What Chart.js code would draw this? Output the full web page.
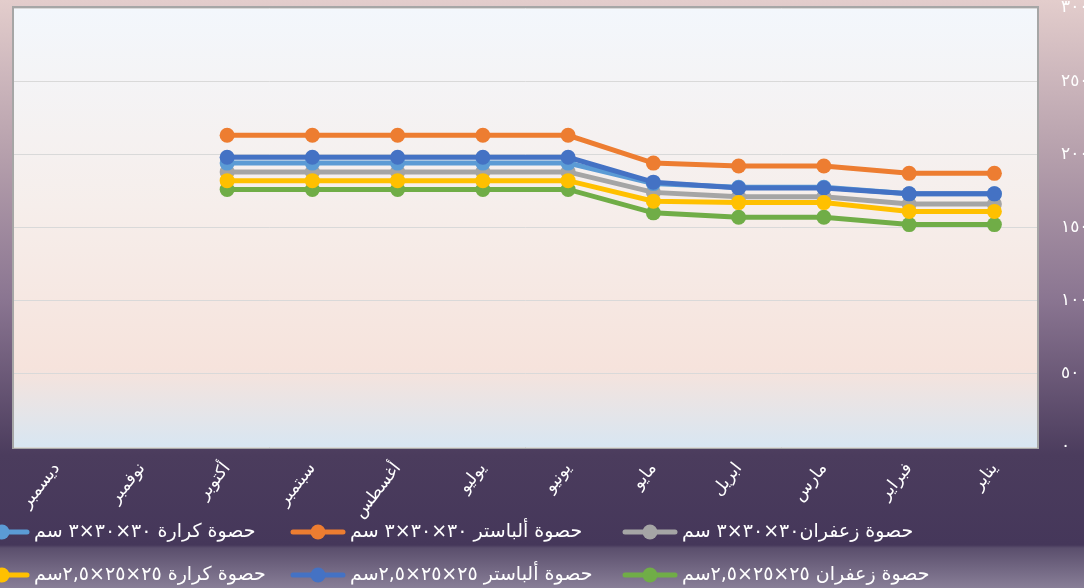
<!DOCTYPE html>
<html lang="ar">
<head>
<meta charset="utf-8">
<script src="https://cdn.jsdelivr.net/npm/chart.js@4.4.1/dist/chart.umd.min.js"></script>
<style>
  html, body { margin: 0; padding: 0; overflow: hidden; }
  #wrap {
    position: relative; width: 1084px; height: 588px;
    background: linear-gradient(to bottom, #e3cdcc 0px, #b7a1ad 150px, #8a7591 300px, #4b3c5d 455px, #45375a 545px, #5b4f6d 548px, #887e97 588px);
  }
</style>
</head>
<body>
<div id="wrap"><canvas id="myChart" dir="rtl"></canvas></div>
<script>
const months = ['يناير', 'فبراير', 'مارس', 'ابريل', 'مايو', 'يونيو', 'يوليو', 'أغسطس', 'سبتمبر', 'أكتوبر', 'نوفمبر', 'ديسمبر'];

const yTickLabels = ['٠', '٥٠', '١٠٠', '١٥٠', '٢٠٠', '٢٥٠', '٣٠٠'];

const seriesNames = [
  'حصوة زعفران٣٠×٣٠×٣ سم',
  'حصوة ألباستر ٣٠×٣٠×٣ سم',
  'حصوة كرارة ٣٠×٣٠×٣ سم',
  'حصوة زعفران ٢٥×٢٥×٢,٥سم',
  'حصوة ألباستر ٢٥×٢٥×٢,٥سم',
  'حصوة كرارة ٢٥×٢٥×٢,٥سم',
];

const seriesColors = ['#a5a5a5', '#ed7d31', '#5b9bd5', '#70ad47', '#4472c4', '#ffc000'];

// Jan .. Dec, no prices for Nov / Dec
const zafaran30 = [166, 166, 171, 171, 174, 188, 188, 188, 188, 188, null, null];
const alabaster30 = [187, 187, 192, 192, 194, 213, 213, 213, 213, 213, null, null];
const karara30 = [173, 173, 177.5, 177.5, 180, 194, 194, 194, 194, 194, null, null];
const zafaran25 = [152, 152, 157, 157, 160, 176, 176, 176, 176, 176, null, null];
const alabaster25 = [173, 173, 177, 177, 181, 198, 198, 198, 198, 198, null, null];
const karara25 = [161, 161, 167, 167, 168, 182, 182, 182, 182, 182, null, null];

const seriesValues = [zafaran30, alabaster30, karara30, zafaran25, alabaster25, karara25];

const datasets = seriesValues.map((vals, i) => ({
  label: seriesNames[i],
  data: vals,
  borderColor: seriesColors[i],
  backgroundColor: seriesColors[i],
  borderWidth: 5,
  pointRadius: 7.5,
  pointHoverRadius: 7.5,
  pointBorderWidth: 0,
  order: seriesValues.length - i, // later series drawn on top
}));

const plotBackground = {
  id: 'plotBackground',
  beforeDraw(chart) {
    const { ctx, chartArea: a } = chart;
    const g = ctx.createLinearGradient(0, a.top, 0, a.bottom);
    g.addColorStop(0, '#f3f7fc');
    g.addColorStop(0.45, '#f6eeeb');
    g.addColorStop(0.82, '#f6e3dc');
    g.addColorStop(1, '#d8e6f2');
    ctx.save();
    ctx.fillStyle = g;
    ctx.fillRect(a.left, a.top, a.right - a.left, a.bottom - a.top);
    ctx.strokeStyle = '#a6a6a6';
    ctx.lineWidth = 2;
    ctx.strokeRect(a.left - 1, a.top - 1, a.right - a.left + 2, a.bottom - a.top + 2);
    ctx.restore();
  }
};

// legend drawn by hand: line + dot symbol left of the text, two rows
const bottomLegend = {
  id: 'bottomLegend',
  afterDraw(chart) {
    const { ctx } = chart;
    const slots = [[650, 532], [318, 532], [2, 532], [650, 575], [318, 575], [2, 575]];
    ctx.save();
    ctx.direction = 'rtl';
    chart.data.datasets.forEach((ds, i) => {
      const [cx, cy] = slots[i];
      ctx.strokeStyle = ds.borderColor;
      ctx.lineWidth = 5;
      ctx.lineCap = 'round';
      ctx.beginPath();
      ctx.moveTo(cx - 25, cy);
      ctx.lineTo(cx + 25, cy);
      ctx.stroke();
      ctx.fillStyle = ds.borderColor;
      ctx.beginPath();
      ctx.arc(cx, cy, 7.5, 0, Math.PI * 2);
      ctx.fill();
      ctx.fillStyle = '#ffffff';
      ctx.font = '19px "DejaVu Sans"';
      ctx.textAlign = 'left';
      ctx.textBaseline = 'middle';
      ctx.fillText(ds.label, cx + 32, cy);
    });
    ctx.restore();
  }
};

const config = {
  type: 'line',
  data: { labels: months, datasets: datasets },
  options: {
    responsive: true,
    maintainAspectRatio: false,
    animation: false,
    layout: { padding: { left: 14, top: 8, right: 0, bottom: 0 } },
    plugins: {
      legend: { display: false },
      tooltip: { enabled: false },
    },
    scales: {
      x: {
        reverse: true,
        offset: true,
        grid: { display: false, drawTicks: false },
        border: { display: false },
        ticks: {
          color: '#ffffff',
          font: { family: 'DejaVu Sans', size: 17 },
          minRotation: 52,
          maxRotation: 52,
          autoSkip: false,
          padding: 12,
        },
        afterFit(s) { s.height = 141; s.paddingLeft = 0; s.paddingRight = 0; },
      },
      y: {
        position: 'right',
        min: 0,
        max: 300,
        grid: { color: '#d9d9d9', drawTicks: false },
        border: { display: false },
        ticks: {
          stepSize: 50,
          color: '#ffffff',
          padding: 24,
          font: { family: 'DejaVu Sans', size: 17 },
          callback: (v, i) => yTickLabels[i],
        },
        afterFit(s) { s.width = 47; s.paddingTop = 0; s.paddingBottom = 0; },
      },
    },
  },
  plugins: [plotBackground, bottomLegend],
};

const myChart = new Chart(document.getElementById('myChart'), config);
</script>
</body>
</html>
